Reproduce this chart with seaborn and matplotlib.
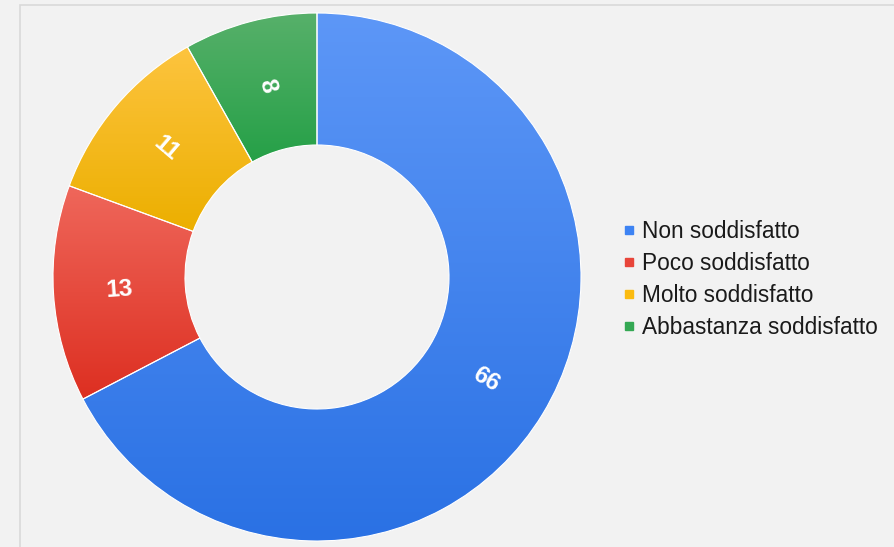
import numpy as np
import matplotlib
matplotlib.use('Agg')
import matplotlib.pyplot as plt
from matplotlib.colors import LinearSegmentedColormap
from matplotlib.patches import Rectangle
import seaborn as sns

labels = ['Non soddisfatto', 'Poco soddisfatto', 'Molto soddisfatto', 'Abbastanza soddisfatto']
values = [66, 13, 11, 8]
# light (top) / dark (bottom) shade of each slice
top_colors = ['#5d97f7', '#ef675b', '#fdc43f', '#57b06a']
bottom_colors = ['#2a71e4', '#dd2f21', '#ecaf00', '#25a047']
base_colors = ['#3d83f3', '#e8453a', '#fbbb10', '#34a853']

bg = '#f2f2f2'
sns.set_style('white', {'axes.facecolor': bg, 'figure.facecolor': bg})
plt.rcParams['font.family'] = ['Liberation Sans', 'DejaVu Sans']

W, H = 894, 547
fig = plt.figure(figsize=(W / 100, H / 100), dpi=100)
fig.patch.set_facecolor(bg)

# light frame
fig.patches.append(Rectangle((20 / W, -0.1), 1.2, 1 - 5 / H + 0.1, transform=fig.transFigure,
                             fill=False, edgecolor='#d9d9d9', linewidth=1.2, zorder=0))

cx, cy, r = 317, 277, 264
ax = fig.add_axes([(cx - r) / W, (H - cy - r) / H, 2 * r / W, 2 * r / H])
ax.set_facecolor('none')

wedges, _ = ax.pie(values, colors=base_colors, startangle=90, counterclock=False,
                   radius=1, wedgeprops=dict(width=0.5, edgecolor='white', linewidth=0.8))
ax.set_aspect('equal')
ax.axis('off')

# vertical gradient on each slice
for w, c1, c2 in zip(wedges, top_colors, bottom_colors):
    bb = w.get_path().get_extents(w.get_patch_transform())
    cmap = LinearSegmentedColormap.from_list('g', [c2, c1])
    grad = np.linspace(0, 1, 256).reshape(-1, 1)
    im = ax.imshow(grad, cmap=cmap, origin='lower', aspect='auto',
                   extent=[bb.x0, bb.x1, bb.y0, bb.y1], zorder=1.5)
    im.set_clip_path(w)
    w.set_facecolor('none')
    w.set_zorder(2)

ax.set_xlim(-1, 1)
ax.set_ylim(-1, 1)

# value labels, rotated along the radius
total = sum(values)
start = 90.0
for v in values:
    span = v / total * 360
    mid = start - span / 2
    start -= span
    rad = np.deg2rad(mid)
    x, y = 0.75 * np.cos(rad), 0.75 * np.sin(rad)
    rot = mid % 360
    if 90 < rot <= 270:
        rot -= 180
    if rot > 270:
        rot -= 360
    ax.text(x, y, str(v), ha='center', va='center', rotation=rot, rotation_mode='anchor',
            color='white', fontsize=17.5, fontweight='bold', zorder=3)

# legend
handles = [plt.Line2D([], [], marker='s', linestyle='', markersize=6,
                      markerfacecolor=c, markeredgecolor=c) for c in base_colors]
fig.legend(handles, labels, loc='center left', bbox_to_anchor=(614 / W, 1 - 279.5 / H),
           frameon=False, fontsize=16.3, handlelength=0.55, handletextpad=0.28,
           labelspacing=0.41, borderaxespad=0, labelcolor='#1a1a1a')

fig.savefig('out.png', dpi=100, facecolor=bg)
